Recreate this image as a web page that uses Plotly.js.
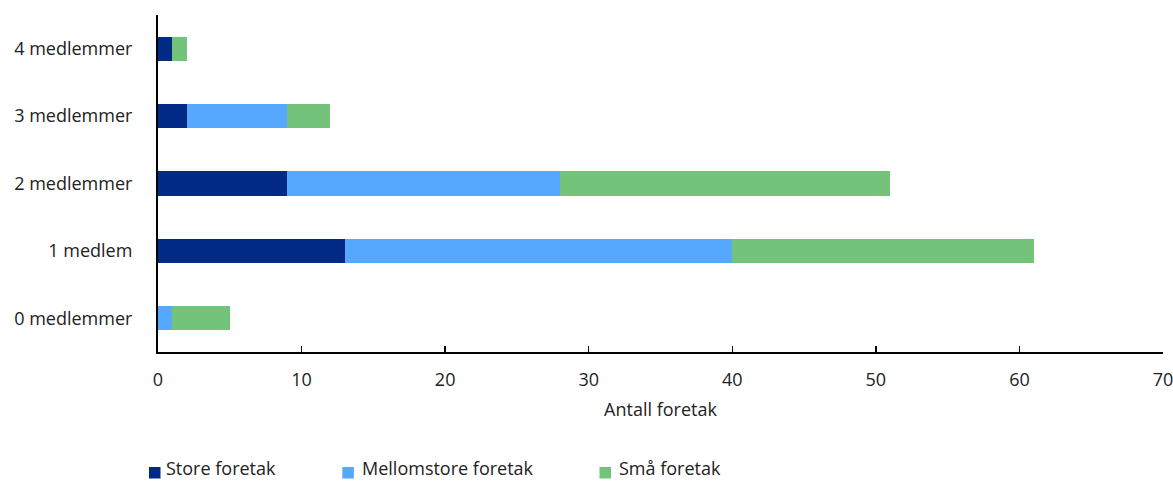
<!DOCTYPE html>
<html>
<head>
<meta charset="utf-8">
<script src="https://cdn.plot.ly/plotly-3.0.1.min.js"></script>
<style>html,body{margin:0;padding:0;background:#fff;}#chart{width:1173px;height:481px;}</style>
</head>
<body>
<div id="chart"></div>
<script>
const categories = ["0 medlemmer", "1 medlem", "2 medlemmer", "3 medlemmer", "4 medlemmer"];
const storeForetak = [0, 13, 9, 2, 1];
const mellomstoreForetak = [1, 27, 19, 7, 0];
const smaForetak = [4, 21, 23, 3, 1];
const seriesNames = ["Store foretak", "Mellomstore foretak", "Små foretak"];
const xTicks = [0, 10, 20, 30, 40, 50, 60, 70];
const xTitle = "Antall foretak";

const colors = ["#002A85", "#56A8FF", "#73C47A"];
const seriesValues = [storeForetak, mellomstoreForetak, smaForetak];

const traces = seriesValues.map((vals, i) => ({
  type: "bar",
  orientation: "h",
  name: seriesNames[i],
  y: categories,
  x: vals,
  width: 0.36,
  marker: {color: colors[i], line: {width: 0}},
  hoverinfo: "x+name",
  showlegend: false
}));

// Manual legend (paper coordinates): square left edges and text starts
const legendSquareX = [-0.0090, 0.1834, 0.4393];
const legendTextX = [0.0068, 0.2018, 0.4573];
const sqW = 0.0115;
const legendYTop = -0.3412, legendYBot = -0.3754, legendTextBottom = -0.3825;

const shapes = seriesNames.map((n, i) => ({
  type: "rect", xref: "paper", yref: "paper",
  x0: legendSquareX[i], x1: legendSquareX[i] + sqW,
  y0: legendYBot, y1: legendYTop,
  fillcolor: colors[i], line: {width: 0}
}));
const annotations = seriesNames.map((n, i) => ({
  text: n, xref: "paper", yref: "paper",
  x: legendTextX[i], y: legendTextBottom,
  xanchor: "left", yanchor: "bottom",
  borderpad: 0,
  showarrow: false,
  font: {size: 18, color: "#222"}
}));

const layout = {
  width: 1173,
  height: 481,
  barmode: "stack",
  paper_bgcolor: "#fff",
  plot_bgcolor: "#fff",
  font: {family: "Open Sans, Noto Sans, sans-serif", size: 18, color: "#222"},
  margin: {l: 158, r: 10, t: 15, b: 129},
  showlegend: false,
  shapes: shapes,
  annotations: annotations,
  xaxis: {
    range: [0, 70],
    tickvals: xTicks,
    ticktext: xTicks.map(String),
    showgrid: false,
    zeroline: false,
    showline: true,
    linecolor: "#000",
    linewidth: 2,
    ticks: "inside",
    ticklen: 6,
    tickwidth: 1.5,
    tickcolor: "#000",
    ticklabelstandoff: 10,
    ticklabeloverflow: "allow",
    automargin: false,
    title: {text: xTitle, font: {size: 18}, standoff: 14},
    fixedrange: true
  },
  yaxis: {
    type: "category",
    categoryorder: "array",
    categoryarray: categories,
    range: [-0.5, 4.5],
    showgrid: false,
    zeroline: false,
    showline: true,
    linecolor: "#000",
    linewidth: 2,
    ticks: "",
    ticklabelstandoff: 20,
    fixedrange: true
  }
};

Plotly.newPlot("chart", traces, layout, {displayModeBar: false, staticPlot: true});
</script>
</body>
</html>
